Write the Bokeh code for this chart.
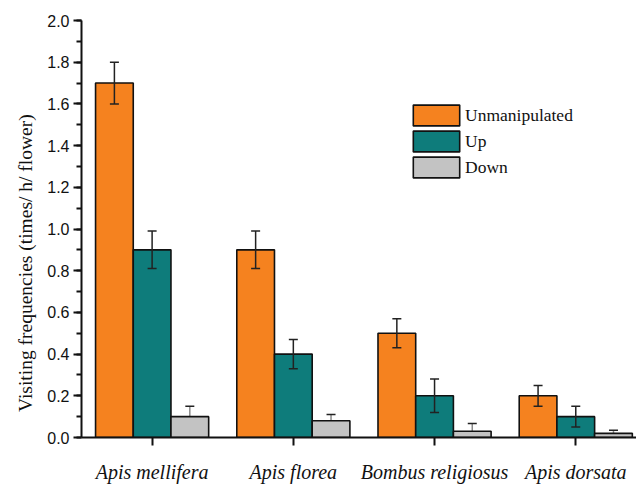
from bokeh.plotting import figure
from bokeh.models import (ColumnDataSource, Whisker, FixedTicker, SingleIntervalTicker,
                          Range1d, Legend, LegendItem, Title, CustomJSTickFormatter)
from bokeh.embed import file_html
from bokeh.resources import INLINE

# Visiting frequencies (times / h / flower) per pollinator species
species = ["Apis mellifera", "Apis florea", "Bombus religiosus", "Apis dorsata"]
unmanipulated = [1.70, 0.90, 0.50, 0.20]
unmanipulated_err = [0.10, 0.09, 0.07, 0.05]
up = [0.90, 0.40, 0.20, 0.10]
up_err = [0.09, 0.07, 0.08, 0.05]
down = [0.10, 0.08, 0.03, 0.02]
down_err = [0.05, 0.03, 0.037, 0.015]

SERIF = "'Liberation Serif', 'Times New Roman', serif"
SANS = "'Liberation Sans', Arial, sans-serif"

groups = [
    ("Unmanipulated", unmanipulated, unmanipulated_err, "#F5821F", -1),
    ("Up", up, up_err, "#0E7C7B", 0),
    ("Down", down, down_err, "#C3C3C3", 1),
]

bar_w = 0.267
pos = [i + 1 for i in range(len(species))]

p = figure(width=636, height=485, output_backend="svg", toolbar_location=None,
           x_range=Range1d(0.5, 4.43), y_range=Range1d(0, 2.0),
           min_border_left=81, min_border_right=0, min_border_top=20,
           min_border_bottom=48)
p.outline_line_color = None
p.xgrid.visible = False
p.ygrid.visible = False
p.background_fill_color = "white"
p.border_fill_color = "white"

legend_items = []
for name, vals, errs, color, off in groups:
    xs = [x + off * bar_w for x in pos]
    src = ColumnDataSource(dict(x=xs, top=vals,
                                lo=[v - e for v, e in zip(vals, errs)],
                                hi=[v + e for v, e in zip(vals, errs)]))
    r = p.vbar(x="x", top="top", width=bar_w, bottom=0, source=src,
               fill_color=color, line_color="#111111", line_width=1.6)
    legend_items.append(LegendItem(label=name, renderers=[r]))

    # error bars; the Down ones sit behind their bars and look faint inside them
    whisk_color = "#8a8a8a" if name == "Down" else "#222222"
    w = Whisker(source=src, base="x", lower="lo", upper="hi",
                line_color=whisk_color, line_width=1.5,
                level="underlay" if name == "Down" else "overlay")
    w.upper_head.size = 9
    w.lower_head.size = 9
    w.upper_head.line_color = "#222222"
    w.upper_head.line_width = 1.5
    w.lower_head.line_color = whisk_color
    w.lower_head.line_width = 1.5
    p.add_layout(w)

# legend swatches are drawn at 80% of the glyph box, so the box is sized up
legend = Legend(items=legend_items, location=(326, 257), padding=0, spacing=0,
                glyph_width=58, glyph_height=26, label_standoff=0,
                border_line_alpha=0, background_fill_alpha=0,
                label_text_font=SERIF, label_text_font_size="17.5px",
                label_text_color="#111111", margin=0)
p.add_layout(legend)

# y axis
p.yaxis.ticker = SingleIntervalTicker(interval=0.2, num_minor_ticks=2)
p.yaxis.formatter = CustomJSTickFormatter(code="return tick.toFixed(1);")
p.yaxis.major_label_text_font = SANS
p.yaxis.major_label_text_font_size = "16px"
p.yaxis.major_label_text_color = "#111111"
p.yaxis.major_label_standoff = 4

# y axis title; trailing no-break spaces push the visible words lower down
ytitle = Title(text="Visiting frequencies (times/ h/ flower)" + "\u00a0" * 14,
               align="center", offset=9, text_font=SERIF, text_font_size="19.5px",
               text_font_style="normal", text_color="#111111", standoff=17)
p.add_layout(ytitle, "left")

# x axis
p.xaxis.ticker = FixedTicker(ticks=pos)
p.xaxis.major_label_overrides = {x: s for x, s in zip(pos, species)}
p.xaxis.major_label_text_font = SERIF
p.xaxis.major_label_text_font_style = "italic"
p.xaxis.major_label_text_font_size = "20px"
p.xaxis.major_label_text_color = "#111111"
p.xaxis.major_label_standoff = 15

for ax in (p.xaxis, p.yaxis):
    ax.axis_line_width = 2
    ax.axis_line_color = "#111111"
    ax.major_tick_line_width = 2
    ax.major_tick_line_color = "#111111"
    ax.minor_tick_line_width = 2
    ax.minor_tick_line_color = "#111111"
    ax.major_tick_in = 0
    ax.major_tick_out = 8
    ax.minor_tick_in = 0
    ax.minor_tick_out = 5
p.xaxis.minor_tick_line_color = None

open("out.html", "w").write(file_html(p, INLINE))
